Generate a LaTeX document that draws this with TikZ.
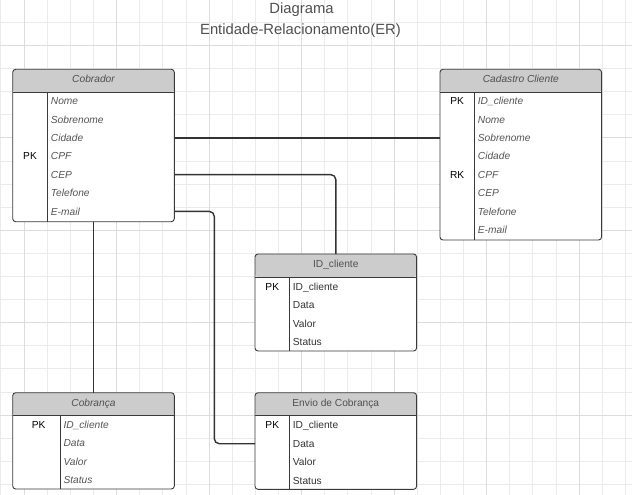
\documentclass[tikz,border=0pt]{standalone}
\usepackage{fontspec}
\setmainfont{Liberation Sans}
\usepackage{xcolor}
\definecolor{er_borda}{HTML}{3A3A3A}
\definecolor{er_linha}{HTML}{333333}
\definecolor{er_cabec}{HTML}{CCCCCC}
\definecolor{er_grade}{HTML}{EBEBEB}
\definecolor{er_grade_forte}{HTML}{DCDCDC}
\definecolor{er_texto}{HTML}{555555}
\definecolor{er_titulo}{HTML}{505050}

\begin{document}
\begin{tikzpicture}[x=1pt, y=-1pt,
    tabela/.style={draw=er_borda, line width=0.9pt, rounded corners=3pt, fill=white,
      anchor=north west, inner sep=0pt, outer sep=0pt, minimum width=161.6,
      path picture={\fill[er_cabec] (path picture bounding box.north west)
        rectangle ([yshift=-23pt]path picture bounding box.north east);}},
    separador/.style={draw=er_borda, line width=0.9pt},
    cabecalho/.style={font=\fontsize{10.2}{12}\selectfont, text=er_titulo, inner sep=0pt,
      text height=7.3pt, text depth=0pt},
    campo/.style={font=\fontsize{10.2}{12}\selectfont, text=er_texto, anchor=west, inner sep=0pt,
      text height=7.3pt, text depth=0pt},
    chave/.style={font=\fontsize{10.2}{12}\selectfont, text=black, inner sep=0pt,
      text height=7.3pt, text depth=0pt},
    conector/.style={draw=er_linha, line width=1.4pt, rounded corners=5pt},
    titulo/.style={font=\fontsize{14.8}{17}\selectfont, text=er_titulo, inner sep=0pt,
      text height=10.6pt, text depth=0pt}]
    % Canvas: 632 x 495 px, y grows downwards
    \useasboundingbox (0,0) rectangle (632,495);
    \fill[white] (0,0) rectangle (632,495);

    % Background grid (every 4th line a bit darker)
    \foreach \k in {-1,...,26} {
      \draw[er_grade, line width=0.8pt] ({24+23.13*\k},0) -- ({24+23.13*\k},495);
    }
    \foreach \k in {0,...,20} {
      \draw[er_grade, line width=0.8pt] (0,{22.3+23.1*\k}) -- (632,{22.3+23.1*\k});
    }
    \foreach \k in {0,4,...,24} {
      \draw[er_grade_forte, line width=0.8pt] ({24+23.13*\k},0) -- ({24+23.13*\k},495);
    }
    \foreach \k in {1,5,...,17} {
      \draw[er_grade_forte, line width=0.8pt] (0,{22.3+23.1*\k}) -- (632,{22.3+23.1*\k});
    }

    % Title
    \node[titulo] (titulo1) at (301.5,8.6) {Diagrama};
    \node[titulo] (titulo2) at (300.5,29.4) {Entidade-Relacionamento(ER)};

    % Table Cobrador
    \node[tabela, minimum height=152.4] (cobrador) at (12.7,69.3) {};
    \draw[separador] ([yshift=-23pt]cobrador.north west) -- ([yshift=-23pt]cobrador.north east);
    \draw[separador] ([xshift=34.6pt,yshift=-23pt]cobrador.north west) -- ([xshift=34.6pt]cobrador.south west);
    \node[cabecalho, font=\fontsize{10.2}{12}\selectfont\itshape] (cob-tit) at ([yshift=-10pt]cobrador.north) {Cobrador};
    \foreach \campo [count=\i] in {Nome, Sobrenome, Cidade, CPF, CEP, Telefone, E-mail} {
      \node[campo, font=\fontsize{10.2}{12}\selectfont\itshape] (cob-\i) at (50.7,{82.6+18.4*\i}) {\campo};
    }
    \node[chave] (cob-pk) at (30,0 |- cob-4) {PK};

    % Table Cadastro Cliente
    \node[tabela, minimum height=170.7] (cadastro) at (440,69.3) {};
    \draw[separador] ([yshift=-23pt]cadastro.north west) -- ([yshift=-23pt]cadastro.north east);
    \draw[separador] ([xshift=34.3pt,yshift=-23pt]cadastro.north west) -- ([xshift=34.3pt]cadastro.south west);
    \node[cabecalho, font=\fontsize{10.2}{12}\selectfont\itshape] (cad-tit) at ([yshift=-10pt]cadastro.north) {Cadastro Cliente};
    \foreach \campo [count=\i] in {ID\_cliente, Nome, Sobrenome, Cidade, CPF, CEP, Telefone, E-mail} {
      \node[campo, font=\fontsize{10.2}{12}\selectfont\itshape] (cad-\i) at (477.7,{82.6+18.4*\i}) {\campo};
    }
    \node[chave] (cad-pk) at (457.2,0 |- cad-1) {PK};
    \node[chave] (cad-rk) at (457.2,0 |- cad-5) {RK};

    % Table ID_cliente
    \node[tabela, minimum height=97] (idcliente) at (255,254) {};
    \draw[separador] ([yshift=-23pt]idcliente.north west) -- ([yshift=-23pt]idcliente.north east);
    \draw[separador] ([xshift=34.7pt,yshift=-23pt]idcliente.north west) -- ([xshift=34.7pt]idcliente.south west);
    \node[cabecalho] (id-tit) at ([yshift=-10.2pt]idcliente.north) {ID\_cliente};
    \foreach \campo [count=\i] in {ID\_cliente, Data, Valor, Status} {
      \node[campo, text=er_linha] (id-\i) at (292.7,{268.2+18.4*\i}) {\campo};
    }
    \node[chave] (id-pk) at (272.3,0 |- id-1) {PK};

    % Table Envio de Cobranca
    \node[tabela, minimum height=96.6] (envio) at (255,392.7) {};
    \draw[separador] ([yshift=-23pt]envio.north west) -- ([yshift=-23pt]envio.north east);
    \draw[separador] ([xshift=34.7pt,yshift=-23pt]envio.north west) -- ([xshift=34.7pt]envio.south west);
    \node[cabecalho] (env-tit) at ([yshift=-10.2pt]envio.north) {Envio de Cobrança};
    \foreach \campo [count=\i] in {ID\_cliente, Data, Valor, Status} {
      \node[campo, text=er_linha] (env-\i) at (292.7,{406.9+18.4*\i}) {\campo};
    }
    \node[chave] (env-pk) at (272.3,0 |- env-1) {PK};

    % Table Cobranca
    \node[tabela, minimum height=96.3] (cobranca) at (12.7,392.7) {};
    \draw[separador] ([yshift=-23pt]cobranca.north west) -- ([yshift=-23pt]cobranca.north east);
    \draw[separador] ([xshift=47.3pt,yshift=-23pt]cobranca.north west) -- ([xshift=47.3pt]cobranca.south west);
    \node[cabecalho, font=\fontsize{10.2}{12}\selectfont\itshape] (cbr-tit) at ([yshift=-10.6pt]cobranca.north) {Cobrança};
    \foreach \campo [count=\i] in {ID\_cliente, Data, Valor, Status} {
      \node[campo, font=\fontsize{10.2}{12}\selectfont\itshape] (cbr-\i) at (63.3,{406.4+18.4*\i}) {\campo};
    }
    \node[chave] (cbr-pk) at (38.6,0 |- cbr-1) {PK};

    % Connectors between the tables
    \draw[conector] (cobrador.east |- cob-3) -- (cadastro.west |- cob-3);
    \draw[conector] (cobrador.east |- cob-5) -| (idcliente.north);
    \draw[conector] (cobrador.east |- cob-7) -- ++(40,0) |- (envio.west |- env-2);
    \draw[conector] (cobrador) -- (cobranca);

  \end{tikzpicture}
\end{document}
